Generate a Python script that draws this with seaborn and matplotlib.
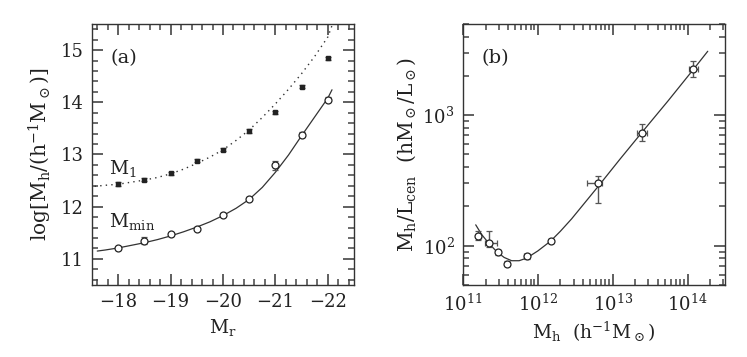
import numpy as np
import pandas as pd
import matplotlib
matplotlib.use("Agg")
import matplotlib.pyplot as plt
import matplotlib.ticker as mticker
import seaborn as sns

# ---------------- Panel (a) data ----------------
mag_r = [-18.0, -18.5, -19.0, -19.5, -20.0, -20.5, -21.0, -21.5, -22.0]
logM1 = [12.44, 12.52, 12.64, 12.88, 13.09, 13.45, 13.81, 14.30, 14.84]
logM1_err = [0.04, 0.03, 0.03, 0.03, 0.03, 0.03, 0.03, 0.03, 0.03]
logMmin = [11.20, 11.35, 11.47, 11.58, 11.85, 12.15, 12.79, 13.38, 14.05]
logMmin_err = [0.03, 0.07, 0.03, 0.03, 0.03, 0.03, 0.08, 0.05, 0.05]

# model curves
curve_mag = [-17.55, -17.75, -18.0, -18.25, -18.5, -18.75, -19.0, -19.25, -19.5,
             -19.75, -20.0, -20.25, -20.5, -20.75, -21.0, -21.25, -21.5, -21.75,
             -22.0, -22.08]
curve_M1 = [12.39, 12.41, 12.43, 12.47, 12.51, 12.56, 12.63, 12.72, 12.83,
            12.95, 13.09, 13.27, 13.47, 13.71, 13.97, 14.25, 14.55, 14.88,
            15.25, 15.47]
curve_mag_min = [-17.6, -17.75, -18.0, -18.25, -18.5, -18.75, -19.0, -19.25, -19.5,
                 -19.75, -20.0, -20.25, -20.5, -20.75, -21.0, -21.25, -21.5, -21.75,
                 -22.0, -22.08]
curve_Mmin = [11.15, 11.17, 11.21, 11.26, 11.31, 11.37, 11.44, 11.52, 11.61,
              11.71, 11.83, 11.97, 12.14, 12.37, 12.66, 12.99, 13.36, 13.72,
              14.08, 14.24]

# ---------------- Panel (b) data ----------------
logMh = [11.205, 11.352, 11.47, 11.59, 11.85, 12.17, 12.805, 13.396, 14.07]
ml_cen = [119, 105, 89, 73, 83, 109, 300, 736, 2250]
ml_err_lo = [9, 8, 4, 3, 3.5, 4, 86, 105, 287]
ml_err_hi = [10, 25, 4, 3, 3.5, 4, 44, 117, 350]
logMh_err_lo = [0.03, 0.06, 0.02, 0.02, 0.03, 0.02, 0.145, 0.066, 0.05]
logMh_err_hi = [0.03, 0.10, 0.02, 0.02, 0.03, 0.02, 0.055, 0.064, 0.07]

curve_logMh = [11.17, 11.25, 11.35, 11.45, 11.55, 11.65, 11.75, 11.85, 12.0,
               12.17, 12.3, 12.45, 12.6, 12.8, 13.1, 13.4, 13.74, 14.07, 14.27]
curve_logML = [2.16, 2.085, 2.015, 1.955, 1.91, 1.885, 1.885, 1.905, 1.96,
               2.035, 2.11, 2.205, 2.31, 2.45, 2.665, 2.875, 3.11, 3.345, 3.49]

# ---------------- Styling ----------------
sns.set_theme(style="ticks")
plt.rcParams["font.family"] = ["DejaVu Serif"]
plt.rcParams["mathtext.fontset"] = "dejavuserif"
plt.rcParams["axes.linewidth"] = 1.0
plt.rcParams["axes.edgecolor"] = "#333333"

fig = plt.figure(figsize=(7.47, 3.57), dpi=100)
axa = fig.add_axes([0.1232, 0.2017, 0.3507, 0.7311])
axb = fig.add_axes([0.6198, 0.2017, 0.3507, 0.7311])

line_col = "#333333"
err_col = "#555555"
tick_col = "#444444"

def style_ticks(ax):
    ax.tick_params(which="both", direction="in", top=True, right=True,
                   bottom=True, left=True, color=tick_col)
    ax.tick_params(which="major", length=8, width=1.2, labelsize=13,
                   labelcolor="#222222", pad=6)
    ax.tick_params(which="minor", length=4.5, width=1.1)

# ---- panel (a)
df_m1 = pd.DataFrame({"x": curve_mag, "y": curve_M1})
df_mmin = pd.DataFrame({"x": curve_mag_min, "y": curve_Mmin})
sns.lineplot(data=df_m1, x="x", y="y", ax=axa, color=line_col, lw=1.0,
             linestyle=(0, (1, 3)), sort=False)
sns.lineplot(data=df_mmin, x="x", y="y", ax=axa, color=line_col, lw=0.9, sort=False)

axa.errorbar(mag_r, logM1, yerr=logM1_err, fmt="s", ms=3.3, mfc="#222222",
             mec="#222222", ecolor=err_col, elinewidth=1.0, capsize=2.5, capthick=1.0)
axa.errorbar(mag_r, logMmin, yerr=logMmin_err, fmt="o", ms=5, mfc="white",
             mec="#222222", mew=0.9, ecolor=err_col, elinewidth=1.0, capsize=2.5,
             capthick=1.0)

axa.set_xlim(-17.5, -22.5)
axa.set_ylim(10.5, 15.5)
axa.xaxis.set_major_locator(mticker.MultipleLocator(1))
axa.xaxis.set_minor_locator(mticker.MultipleLocator(0.2))
axa.yaxis.set_major_locator(mticker.MultipleLocator(1))
axa.yaxis.set_minor_locator(mticker.MultipleLocator(0.2))
axa.xaxis.set_major_formatter(mticker.FuncFormatter(lambda v, p: "\u2212%d" % abs(round(v))))
style_ticks(axa)
axa.set_xlabel(r"$\mathrm{M_r}$", fontsize=13.5, color="#222222", labelpad=4)
axa.set_ylabel(r"$\mathrm{log[M_h/(h^{-1}M_\odot)]}$", fontsize=14.5,
               color="#222222", labelpad=5)
axa.text(0.07, 0.87, "(a)", transform=axa.transAxes, fontsize=14,
         color="#222222", va="center", ha="left")
axa.text(-17.83, 12.73, r"$\mathrm{M_1}$", fontsize=13.5, color="#222222",
         ha="left", va="center")
axa.text(-17.83, 11.72, r"$\mathrm{M_{min}}$", fontsize=13.5, color="#222222",
         ha="left", va="center")

# ---- panel (b)
cx = [10 ** v for v in curve_logMh]
cy = [10 ** v for v in curve_logML]
df_b = pd.DataFrame({"x": cx, "y": cy})
sns.lineplot(data=df_b, x="x", y="y", ax=axb, color=line_col, lw=0.9, sort=False)

px = np.array([10 ** v for v in logMh])
xerr_lo = px - np.array([10 ** (v - e) for v, e in zip(logMh, logMh_err_lo)])
xerr_hi = np.array([10 ** (v + e) for v, e in zip(logMh, logMh_err_hi)]) - px
axb.errorbar(px, ml_cen, yerr=[ml_err_lo, ml_err_hi], xerr=[xerr_lo, xerr_hi],
             fmt="o", ms=5, mfc="white", mec="#222222", mew=0.9, ecolor=err_col,
             elinewidth=1.0, capsize=2.5, capthick=1.0)

axb.set_xscale("log")
axb.set_yscale("log")
axb.set_xlim(1e11, 10 ** 14.5)
axb.set_ylim(50, 5000)
axb.xaxis.set_major_locator(mticker.LogLocator(base=10, numticks=10))
axb.xaxis.set_minor_locator(mticker.LogLocator(base=10, subs=tuple(np.arange(2, 10)), numticks=20))
axb.yaxis.set_major_locator(mticker.LogLocator(base=10, numticks=10))
axb.yaxis.set_minor_locator(mticker.LogLocator(base=10, subs=tuple(np.arange(2, 10)), numticks=20))
axb.xaxis.set_minor_formatter(mticker.NullFormatter())
axb.yaxis.set_minor_formatter(mticker.NullFormatter())
style_ticks(axb)
axb.set_xlabel(r"$\mathrm{M_h\ \ (h^{-1}M_\odot)}$", fontsize=13.5, color="#222222",
               labelpad=4)
axb.set_ylabel(r"$\mathrm{M_h/L_{cen}\ \ (hM_\odot/L_\odot)}$", fontsize=14.5,
               color="#222222", labelpad=3)
axb.text(0.07, 0.87, "(b)", transform=axb.transAxes, fontsize=14,
         color="#222222", va="center", ha="left")

fig.savefig("out.png", dpi=100)
